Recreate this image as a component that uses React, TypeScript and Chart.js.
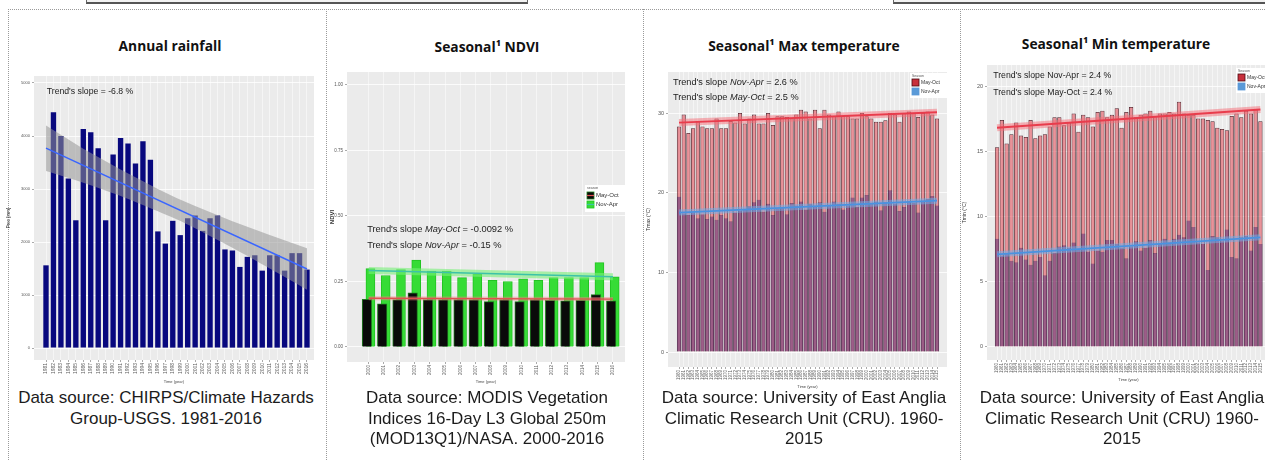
import React, { useEffect, useRef } from 'react';
import { Chart, registerables } from 'chart.js';

Chart.register(...registerables);
const FONT = '"Liberation Sans", Arial, sans-serif';
Chart.defaults.font.family = FONT;

// ---------------- data ----------------
const RAIN_YEARS = [1981, 1982, 1983, 1984, 1985, 1986, 1987, 1988, 1989, 1990, 1991, 1992, 1993, 1994, 1995, 1996, 1997, 1998, 1999, 2000, 2001, 2002, 2003, 2004, 2005, 2006, 2007, 2008, 2009, 2010, 2011, 2012, 2013, 2014, 2015, 2016];
const RAIN_MM = [1560, 4450, 4000, 3200, 2410, 4130, 4070, 3770, 2410, 3650, 3960, 3860, 3480, 3900, 3550, 2200, 1970, 2400, 2130, 2450, 2500, 2210, 2450, 2500, 1860, 1840, 1530, 1720, 1750, 1460, 1750, 1750, 1460, 1790, 1790, 1480];
const RAIN_TREND_X = [1981, 2016];
const RAIN_TREND = [3770, 1490];
const RAIN_BAND_X = [1981, 1986, 1991, 1996, 1998.5, 2001, 2006, 2011, 2016];
const RAIN_BAND_HI = [4200, 3760, 3370, 3000, 2830, 2680, 2390, 2130, 1880];
const RAIN_BAND_LO = [3340, 3120, 2870, 2580, 2430, 2260, 1890, 1500, 1100];
const RAIN_Y_TICKS = [0, 1000, 2000, 3000, 4000, 5000];

const NDVI_YEARS = [2000, 2001, 2002, 2003, 2004, 2005, 2006, 2007, 2008, 2009, 2010, 2011, 2012, 2013, 2014, 2015, 2016];
const NDVI_MAY_OCT = [0.182, 0.165, 0.181, 0.207, 0.181, 0.181, 0.181, 0.181, 0.173, 0.181, 0.173, 0.181, 0.178, 0.176, 0.178, 0.2, 0.176];
const NDVI_NOV_APR = [0.299, 0.273, 0.295, 0.332, 0.29, 0.29, 0.265, 0.278, 0.254, 0.25, 0.26, 0.254, 0.265, 0.265, 0.265, 0.322, 0.268];
const NDVI_TREND_X = [2000, 2016];
const NDVI_TREND_MAY_OCT = [0.186, 0.183];
const NDVI_TREND_NOV_APR = [0.292, 0.268];
const NDVI_Y_TICKS = [0, 0.25, 0.5, 0.75, 1];

const CRU_YEARS = [1960, 1961, 1962, 1963, 1964, 1965, 1966, 1967, 1968, 1969, 1970, 1971, 1972, 1973, 1974, 1975, 1976, 1977, 1978, 1979, 1980, 1981, 1982, 1983, 1984, 1985, 1986, 1987, 1988, 1989, 1990, 1991, 1992, 1993, 1994, 1995, 1996, 1997, 1998, 1999, 2000, 2001, 2002, 2003, 2004, 2005, 2006, 2007, 2008, 2009, 2010, 2011, 2012, 2013, 2014, 2015];
const TMAX_MAY_OCT = [28.3, 29.8, 27.5, 28.1, 29.0, 28.3, 28.1, 28.1, 29.3, 28.1, 28.1, 29.0, 28.8, 30.0, 28.7, 29.3, 29.8, 28.7, 28.7, 30.0, 28.5, 29.6, 29.6, 29.5, 29.3, 29.8, 30.4, 30.2, 29.3, 30.4, 28.1, 30.4, 29.8, 29.6, 30.2, 29.6, 29.6, 29.3, 29.3, 30.0, 29.6, 29.3, 28.9, 28.9, 29.1, 30.0, 29.8, 28.9, 30.0, 30.2, 30.0, 29.5, 30.0, 30.2, 29.8, 29.3];
const TMAX_NOV_APR = [19.5, 17.4, 17.2, 17.5, 16.8, 17.3, 16.7, 17.0, 16.6, 17.2, 16.8, 16.4, 17.5, 17.7, 17.9, 18.3, 18.8, 19.1, 17.6, 18.6, 17.2, 18.0, 18.2, 17.3, 18.7, 18.4, 18.9, 17.9, 18.6, 18.3, 18.8, 17.6, 18.4, 18.9, 18.6, 17.9, 18.4, 19.4, 18.2, 19.4, 19.7, 18.6, 18.9, 17.8, 18.8, 20.3, 18.6, 17.7, 18.2, 18.9, 18.7, 17.5, 19.0, 19.2, 19.6, 18.4];
const TMAX_TREND_X = [1960, 2015];
const TMAX_TREND_MAY_OCT = [28.8, 30.1];
const TMAX_TREND_NOV_APR = [17.5, 19.0];
const TMAX_Y_TICKS = [0, 10, 20, 30];

const TMIN_MAY_OCT = [15.3, 17.4, 15.6, 16.3, 17.2, 16.2, 16.1, 17.4, 16.0, 16.2, 16.3, 16.9, 17.6, 17.6, 17.0, 17.2, 17.9, 16.5, 17.8, 17.6, 16.9, 18.0, 18.1, 17.6, 17.8, 18.3, 16.8, 18.0, 18.4, 17.6, 17.8, 17.9, 18.1, 17.7, 17.9, 17.9, 18.0, 17.9, 18.8, 17.9, 17.8, 17.8, 17.5, 17.5, 17.4, 17.3, 16.8, 16.7, 16.6, 17.7, 17.9, 17.6, 18.1, 17.9, 18.2, 17.3];
const TMIN_NOV_APR = [8.3, 7.0, 7.2, 6.6, 6.5, 7.6, 6.7, 6.3, 6.6, 6.9, 5.5, 6.6, 7.2, 7.7, 7.8, 7.6, 8.0, 7.5, 8.7, 7.3, 6.4, 7.4, 7.3, 8.2, 8.2, 7.9, 7.6, 6.8, 7.7, 8.1, 7.4, 7.6, 8.2, 7.2, 7.9, 8.3, 8.0, 8.3, 8.6, 8.4, 9.7, 9.2, 8.0, 7.9, 5.9, 8.5, 8.4, 8.1, 9.0, 6.9, 6.8, 8.4, 8.5, 7.4, 9.2, 7.9];
const TMIN_TREND_X = [1960, 2015];
const TMIN_TREND_MAY_OCT = [16.8, 18.2];
const TMIN_TREND_NOV_APR = [7.1, 8.4];
const TMIN_Y_TICKS = [0, 5, 10, 15, 20];

const NDVI_DODGE = 0.115;

// ---------------- helpers ----------------
const pts = (xs: number[], ys: number[]) => xs.map((x, i) => ({ x, y: ys[i] }));

type Part = [string, boolean];
interface TextCfg { x: number; y: number; size: number; parts: Part[] }
interface LegendItem { label: string; fill: string; stroke: string; line?: string }
interface LegendCfg { dx: number; dy: number; w: number; h: number; title: string; titleSize: number; size: number; sw: number; firstY: number; rowH: number; items: LegendItem[] }

function makeDecor(texts: TextCfg[], legend?: LegendCfg) {
  return {
    id: 'decor',
    beforeDraw(chart: any) {
      const { ctx, chartArea: a } = chart;
      ctx.save();
      ctx.fillStyle = '#EBEBEB';
      ctx.fillRect(a.left, a.top, a.right - a.left, a.bottom - a.top);
      ctx.restore();
    },
    afterDraw(chart: any) {
      const { ctx, chartArea: a, scales } = chart;
      ctx.save();
      ctx.textBaseline = 'middle';
      ctx.textAlign = 'left';
      for (const t of texts) {
        let px = scales.x.getPixelForValue(t.x);
        const py = scales.y.getPixelForValue(t.y);
        for (const [s, it] of t.parts) {
          ctx.font = `${it ? 'italic ' : ''}${t.size}px ${FONT}`;
          ctx.fillStyle = '#222';
          ctx.fillText(s, px, py);
          px += ctx.measureText(s).width;
        }
      }
      if (legend) {
        const lg = legend;
        const x0 = a.right + lg.dx;
        const y0 = a.top + lg.dy;
        ctx.fillStyle = '#ffffff';
        ctx.fillRect(x0, y0, lg.w, lg.h);
        ctx.fillStyle = '#555';
        ctx.font = `${lg.titleSize}px ${FONT}`;
        ctx.fillText(lg.title, x0 + 2, y0 + 3);
        lg.items.forEach((it, i) => {
          const sy = y0 + lg.firstY + i * lg.rowH;
          ctx.fillStyle = it.fill;
          ctx.fillRect(x0 + 2, sy, lg.sw, lg.sw);
          ctx.strokeStyle = it.stroke;
          ctx.lineWidth = 0.8;
          ctx.strokeRect(x0 + 2, sy, lg.sw, lg.sw);
          if (it.line) {
            ctx.strokeStyle = it.line;
            ctx.lineWidth = 1.2;
            ctx.beginPath();
            ctx.moveTo(x0 + 2, sy + lg.sw / 2);
            ctx.lineTo(x0 + 2 + lg.sw, sy + lg.sw / 2);
            ctx.stroke();
          }
          ctx.fillStyle = '#333';
          ctx.font = `${lg.size}px ${FONT}`;
          ctx.fillText(it.label, x0 + 4 + lg.sw, sy + lg.sw / 2);
        });
      }
      ctx.restore();
    },
  };
}

interface Geo { left: number; top: number; w: number; h: number; yW: number; xH: number; padTop: number; padRight: number }

function baseOptions(g: Geo, o: {
  xMin: number; xMax: number; xTicks: number[]; xTickSize: number;
  yMin: number; yMax: number; yTicks: number[]; yTickSize: number; yLabel: (v: number) => string;
  yTitle: string; yTitleSize: number; yTitleBold?: boolean;
}) {
  return {
    responsive: false,
    animation: false,
    layout: { padding: { top: g.padTop, right: g.padRight, left: 0, bottom: 0 } },
    plugins: { legend: { display: false }, tooltip: { enabled: false }, title: { display: false } },
    scales: {
      x: {
        type: 'linear',
        min: o.xMin,
        max: o.xMax,
        offset: false,
        afterBuildTicks: (s: any) => { s.ticks = o.xTicks.map((v) => ({ value: v })); },
        afterFit: (s: any) => { s.height = g.xH; },
        ticks: { autoSkip: false, minRotation: 90, maxRotation: 90, font: { size: o.xTickSize }, color: '#606060', padding: 1, callback: (v: any) => String(v) },
        grid: { color: '#ffffff', lineWidth: 0.5, offset: false, tickLength: 2, tickColor: '#555', tickWidth: 0.5 },
        border: { display: false },
        title: { display: true, text: 'Time (year)', font: { size: 4 }, color: '#444', padding: { top: 0, bottom: 0 } },
      },
      y: {
        type: 'linear',
        min: o.yMin,
        max: o.yMax,
        afterBuildTicks: (s: any) => { s.ticks = o.yTicks.map((v) => ({ value: v })); },
        afterFit: (s: any) => { s.width = g.yW; },
        ticks: { font: { size: o.yTickSize }, color: '#555', padding: 2, callback: (v: any) => o.yLabel(Number(v)) },
        grid: { color: '#ffffff', lineWidth: 0.8, tickLength: 2, tickColor: '#555', tickWidth: 0.5 },
        border: { display: false },
        title: { display: true, text: o.yTitle, font: { size: o.yTitleSize, weight: o.yTitleBold ? 'bold' : 'normal' }, color: '#333', padding: { top: 0, bottom: 0 } },
      },
    },
  };
}

function ChartBox({ geo, build }: { geo: Geo; build: () => any }) {
  const ref = useRef<HTMLCanvasElement | null>(null);
  useEffect(() => {
    const chart = new Chart(ref.current as HTMLCanvasElement, build());
    return () => chart.destroy();
  }, []);
  return (
    <canvas
      ref={ref}
      width={geo.w}
      height={geo.h}
      style={{ position: 'absolute', left: geo.left, top: geo.top, width: geo.w, height: geo.h }}
    />
  );
}

// ---------------- chart builders ----------------
const G1: Geo = { left: 6, top: 70, w: 312, h: 314, yW: 28, xH: 24, padTop: 6, padRight: 4 };
const G2: Geo = { left: 329, top: 66, w: 301, h: 318, yW: 18, xH: 22, padTop: 6, padRight: 5 };
const G3: Geo = { left: 646, top: 66, w: 306, h: 323, yW: 22, xH: 22, padTop: 6, padRight: 5 };
const G4: Geo = { left: 962, top: 59, w: 318, h: 323, yW: 25, xH: 22, padTop: 6, padRight: 10 };

const buildRain = () => ({
  type: 'bar',
  data: {
    datasets: [
      { type: 'bar', data: pts(RAIN_YEARS, RAIN_MM), backgroundColor: '#08087e', borderWidth: 0, barPercentage: 0.72, categoryPercentage: 1, order: 4 },
      { type: 'line', data: pts(RAIN_BAND_X, RAIN_BAND_HI), borderColor: 'rgba(0,0,0,0)', borderWidth: 0, pointRadius: 0, fill: false, order: 3 },
      { type: 'line', data: pts(RAIN_BAND_X, RAIN_BAND_LO), borderColor: 'rgba(0,0,0,0)', borderWidth: 0, pointRadius: 0, fill: '-1', backgroundColor: 'rgba(150,150,150,0.55)', tension: 0.3, order: 2 },
      { type: 'line', data: pts(RAIN_TREND_X, RAIN_TREND), borderColor: '#3a66ff', borderWidth: 1.5, pointRadius: 0, fill: false, order: 1 },
    ],
  },
  options: baseOptions(G1, {
    xMin: 1979.39, xMax: 2016.94, xTicks: RAIN_YEARS, xTickSize: 5,
    yMin: -226, yMax: 5132, yTicks: RAIN_Y_TICKS, yTickSize: 4, yLabel: (v) => String(v),
    yTitle: 'Prec [mm]', yTitleSize: 4.5,
  }),
  plugins: [makeDecor([{ x: 1981.1, y: 4830, size: 8.7, parts: [["Trend's slope = -6.8 %", false]] }])],
});

const buildNdvi = () => ({
  type: 'bar',
  data: {
    datasets: [
      { type: 'bar', data: pts(NDVI_YEARS.map((y) => y - NDVI_DODGE), NDVI_MAY_OCT), backgroundColor: '#0a0a0a', borderColor: '#1f7a1f', borderWidth: 1, barThickness: 9.5, grouped: false, order: 4 },
      { type: 'bar', data: pts(NDVI_YEARS.map((y) => y + NDVI_DODGE), NDVI_NOV_APR), backgroundColor: '#36dc36', borderColor: '#22c322', borderWidth: 1, barThickness: 9, grouped: false, order: 5 },
      { type: 'line', data: pts(NDVI_TREND_X, NDVI_TREND_NOV_APR), borderColor: 'rgba(120,240,120,0.6)', borderWidth: 7, pointRadius: 0, fill: false, order: 3 },
      { type: 'line', data: pts(NDVI_TREND_X, NDVI_TREND_NOV_APR), borderColor: '#3cc2a8', borderWidth: 1.5, pointRadius: 0, fill: false, order: 1 },
      { type: 'line', data: pts(NDVI_TREND_X, NDVI_TREND_MAY_OCT), borderColor: 'rgba(240,130,130,0.45)', borderWidth: 4, pointRadius: 0, fill: false, order: 2 },
      { type: 'line', data: pts(NDVI_TREND_X, NDVI_TREND_MAY_OCT), borderColor: '#e05050', borderWidth: 1.3, pointRadius: 0, fill: false, order: 1 },
    ],
  },
  options: baseOptions(G2, {
    xMin: 1998.58, xMax: 2016.79, xTicks: NDVI_YEARS, xTickSize: 4.5,
    yMin: -0.0573, yMax: 1.0496, yTicks: NDVI_Y_TICKS, yTickSize: 4.5, yLabel: (v) => v.toFixed(2),
    yTitle: 'NDVI', yTitleSize: 6, yTitleBold: true,
  }),
  plugins: [makeDecor(
    [
      { x: 1999.9, y: 0.447, size: 9.3, parts: [["Trend's slope ", false], ['May-Oct', true], [' = -0.0092 %', false]] },
      { x: 1999.9, y: 0.389, size: 9.3, parts: [["Trend's slope ", false], ['Nov-Apr', true], [' = -0.15 %', false]] },
    ],
    { dx: -40, dy: 113, w: 42, h: 27, title: 'season', titleSize: 3.5, size: 6, sw: 7, firstY: 7, rowH: 9,
      items: [
        { label: 'May-Oct', fill: '#0a0a0a', stroke: '#1f7a1f', line: '#e05050' },
        { label: 'Nov-Apr', fill: '#36dc36', stroke: '#22c322', line: '#3cc2a8' },
      ] },
  )],
});

function buildTemp(g: Geo, o: {
  red: number[]; blue: number[]; trendRed: number[]; trendBlue: number[]; trendX: number[];
  xMin: number; xMax: number; yMin: number; yMax: number; yTicks: number[]; yTitle: string;
  texts: TextCfg[]; legend: LegendCfg;
}) {
  return () => ({
    type: 'bar',
    data: {
      datasets: [
        { type: 'bar', data: pts(CRU_YEARS, o.blue), backgroundColor: 'rgba(70,35,115,0.47)', borderColor: 'rgba(40,20,70,0.6)', borderWidth: 0.4, grouped: false, barPercentage: 0.9, categoryPercentage: 1, order: 4 },
        { type: 'bar', data: pts(CRU_YEARS, o.red), backgroundColor: 'rgba(222,48,62,0.5)', borderColor: 'rgba(60,12,22,0.9)', borderWidth: 0.75, grouped: false, barPercentage: 0.9, categoryPercentage: 1, order: 5 },
        { type: 'line', data: pts(o.trendX, o.trendRed), borderColor: 'rgba(245,110,120,0.5)', borderWidth: 7, pointRadius: 0, fill: false, order: 3 },
        { type: 'line', data: pts(o.trendX, o.trendRed), borderColor: '#e83c4c', borderWidth: 1.8, pointRadius: 0, fill: false, order: 1 },
        { type: 'line', data: pts(o.trendX, o.trendBlue), borderColor: 'rgba(110,175,240,0.5)', borderWidth: 6, pointRadius: 0, fill: false, order: 2 },
        { type: 'line', data: pts(o.trendX, o.trendBlue), borderColor: '#4a92e0', borderWidth: 1.8, pointRadius: 0, fill: false, order: 1 },
      ],
    },
    options: baseOptions(g, {
      xMin: o.xMin, xMax: o.xMax, xTicks: CRU_YEARS, xTickSize: 4.5,
      yMin: o.yMin, yMax: o.yMax, yTicks: o.yTicks, yTickSize: 5.5, yLabel: (v) => String(v),
      yTitle: o.yTitle, yTitleSize: 5,
    }),
    plugins: [makeDecor(o.texts, o.legend)],
  });
}

const tempLegend = (dx: number, dy: number): LegendCfg => ({
  dx, dy, w: 37, h: 25, title: 'Season', titleSize: 3.5, size: 5, sw: 7, firstY: 6, rowH: 9,
  items: [
    { label: 'May-Oct', fill: '#c8303c', stroke: '#4a0a12' },
    { label: 'Nov-Apr', fill: '#5a9ad8', stroke: '#5a9ad8' },
  ],
});

const buildTmax = buildTemp(G3, {
  red: TMAX_MAY_OCT, blue: TMAX_NOV_APR, trendRed: TMAX_TREND_MAY_OCT, trendBlue: TMAX_TREND_NOV_APR, trendX: TMAX_TREND_X,
  xMin: 1957.65, xMax: 2017.13, yMin: -1.88, yMax: 35.15, yTicks: TMAX_Y_TICKS, yTitle: 'Tmax (°C)',
  texts: [
    { x: 1958.7, y: 33.8, size: 9.2, parts: [["Trend's slope ", false], ['Nov-Apr', true], [' = 2.6 %', false]] },
    { x: 1958.7, y: 31.9, size: 9.2, parts: [["Trend's slope ", false], ['May-Oct', true], [' = 2.5 %', false]] },
  ],
  legend: tempLegend(-37, 1),
});

const buildTmin = buildTemp(G4, {
  red: TMIN_MAY_OCT, blue: TMIN_NOV_APR, trendRed: TMIN_TREND_MAY_OCT, trendBlue: TMIN_TREND_NOV_APR, trendX: TMIN_TREND_X,
  xMin: 1957.9, xMax: 2017.0, yMin: -1.0, yMax: 21.61, yTicks: TMIN_Y_TICKS, yTitle: 'Tmin (°C)',
  texts: [
    { x: 1959.2, y: 20.8, size: 8.7, parts: [["Trend's slope Nov-Apr = 2.4 %", false]] },
    { x: 1959.2, y: 19.5, size: 8.7, parts: [["Trend's slope May-Oct = 2.4 %", false]] },
  ],
  legend: tempLegend(-34, 3),
});

// ---------------- layout ----------------
const TITLES = [
  { cx: 170, top: 37, text: 'Annual rainfall' },
  { cx: 487, top: 38, text: 'Seasonal¹ NDVI' },
  { cx: 804, top: 37, text: 'Seasonal¹ Max temperature' },
  { cx: 1116, top: 35, text: 'Seasonal¹ Min temperature' },
];
const SOURCES = [
  { cx: 166, lines: ['Data source: CHIRPS/Climate Hazards', 'Group-USGS. 1981-2016'] },
  { cx: 487, lines: ['Data source: MODIS Vegetation', 'Indices 16-Day L3 Global 250m', '(MOD13Q1)/NASA. 2000-2016'] },
  { cx: 804, lines: ['Data source: University of East Anglia', 'Climatic Research Unit (CRU). 1960-', '2015'] },
  { cx: 1122, lines: ['Data source: University of East Anglia', 'Climatic Research Unit (CRU) 1960-', '2015'] },
];
const DIVIDERS = [8, 326, 643, 960];

export default function App() {
  return (
    <div style={{ position: 'fixed', left: 0, top: 0, width: 1265, height: 460, overflow: 'hidden', background: '#fff', fontFamily: FONT }}>
      <div style={{ position: 'absolute', left: 86, top: -20, width: 440, height: 21, border: '1px solid #666', borderBottom: '2px solid #555', background: '#f2f2f2' }} />
      <div style={{ position: 'absolute', left: 893, top: -20, width: 420, height: 21, border: '1px solid #666', borderBottom: '2px solid #555', background: '#f2f2f2' }} />
      <div style={{ position: 'absolute', left: 8, top: 9, width: 1257, height: 0, borderTop: '1px dotted #9a9a9a' }} />
      {DIVIDERS.map((x) => (
        <div key={x} style={{ position: 'absolute', left: x, top: 9, width: 0, height: 451, borderLeft: '1px dotted #9a9a9a' }} />
      ))}
      {TITLES.map((t) => (
        <div key={t.text} style={{ position: 'absolute', left: t.cx - 150, top: t.top, width: 300, textAlign: 'center', fontFamily: '"Open Sans", sans-serif', fontWeight: 700, fontSize: 13.8, lineHeight: '18px', color: '#111' }}>
          {t.text}
        </div>
      ))}
      <ChartBox geo={G1} build={buildRain} />
      <ChartBox geo={G2} build={buildNdvi} />
      <ChartBox geo={G3} build={buildTmax} />
      <ChartBox geo={G4} build={buildTmin} />
      {SOURCES.map((s) => (
        <div key={s.cx} style={{ position: 'absolute', left: s.cx - 170, top: 388, width: 340, textAlign: 'center', fontSize: 17, lineHeight: '20.5px', color: '#1c1c1c' }}>
          {s.lines.map((l) => (
            <div key={l} style={{ whiteSpace: 'nowrap' }}>{l}</div>
          ))}
        </div>
      ))}
    </div>
  );
}
